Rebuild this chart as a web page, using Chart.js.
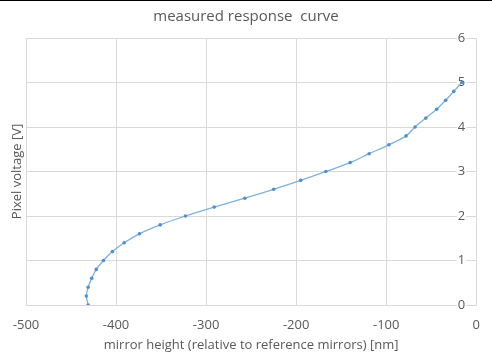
<!DOCTYPE html>
<html lang="en">
<head>
    <meta charset="UTF-8">
    <title>measured response curve</title>
    <script src="https://cdn.jsdelivr.net/npm/chart.js"></script>
    <style>
        html, body { margin: 0; padding: 0; background: #fff; }
        #wrap { position: relative; width: 492px; height: 353px; }
        #topline { position: absolute; left: 0; top: 0; width: 492px; height: 1px; background: #000; }
    </style>
</head>
<body>
    <div id="wrap">
        <canvas id="grafica" width="492" height="353"></canvas>
        <div id="topline"></div>
    </div>
    <script>
        // pixel voltage steps [V] and mirror height [nm]
        const voltage = [0, 0.2, 0.4, 0.6, 0.8, 1.0, 1.2, 1.4, 1.6, 1.8, 2.0, 2.2, 2.4,
                         2.6, 2.8, 3.0, 3.2, 3.4, 3.6, 3.8, 4.0, 4.2, 4.4, 4.6, 4.8, 5.0];
        const height = [-431, -433, -431, -427, -422, -414, -404, -391, -374, -351, -323, -291, -257,
                        -225, -195, -167, -140, -119, -97, -78, -68, -56, -44, -34, -25, -16];
        const xTicks = [-500, -400, -300, -200, -100, 0];
        const yTicks = [0, 1, 2, 3, 4, 5, 6];

        const textColor = '#595959';
        const gridColor = '#d9d9d9';
        const fam = "'Open Sans', sans-serif";

        const puntos = voltage.map(function(v, i) { return { x: height[i], y: v }; });

        const ctx = document.getElementById('grafica').getContext('2d');
        new Chart(ctx, {
            type: 'scatter',
            data: {
                datasets: [{
                    data: puntos,
                    showLine: true,
                    tension: 0.35,
                    borderColor: '#7fb0de',
                    borderWidth: 1.3,
                    pointRadius: 1.8,
                    pointBackgroundColor: '#4f8fd0',
                    pointBorderWidth: 0,
                    yAxisID: 'y'
                }]
            },
            options: {
                responsive: false,
                animation: false,
                layout: { padding: 0 },
                plugins: {
                    legend: { display: false },
                    tooltip: { enabled: false },
                    title: {
                        display: true,
                        text: 'measured response  curve',
                        color: textColor,
                        font: { family: fam, size: 15, weight: 'normal' },
                        padding: { top: 8, bottom: 12 }
                    }
                },
                scales: {
                    x: {
                        type: 'linear',
                        position: 'bottom',
                        min: -500,
                        max: 0,
                        afterBuildTicks: function(s) { s.ticks = xTicks.map(function(v) { return { value: v }; }); },
                        afterFit: function(s) { s.height = 48; },
                        grid: { color: gridColor, drawTicks: false },
                        border: { color: gridColor },
                        ticks: { color: textColor, font: { family: fam, size: 13 }, padding: 12, maxRotation: 0 },
                        title: {
                            display: true,
                            text: 'mirror height (relative to reference mirrors) [nm]',
                            color: textColor,
                            font: { family: fam, size: 13 },
                            padding: { top: 0, bottom: 0 }
                        }
                    },
                    y: {
                        type: 'linear',
                        position: 'right',
                        min: 0,
                        max: 6,
                        afterBuildTicks: function(s) { s.ticks = yTicks.map(function(v) { return { value: v }; }); },
                        afterFit: function(s) { s.width = 15; },
                        grid: { color: gridColor, drawTicks: false },
                        border: { color: gridColor },
                        ticks: {
                            color: textColor,
                            font: { family: fam, size: 13 },
                            mirror: true,
                            padding: -11,
                            showLabelBackdrop: true,
                            backdropColor: '#ffffff',
                            backdropPadding: 1
                        }
                    },
                    yTitulo: {
                        type: 'linear',
                        position: 'left',
                        min: 0,
                        max: 6,
                        afterFit: function(s) { s.width = 26; },
                        grid: { display: false },
                        border: { display: false },
                        ticks: { display: false },
                        title: {
                            display: true,
                            text: 'Pixel voltage [V]',
                            color: textColor,
                            font: { family: fam, size: 13 },
                            padding: { top: 9, bottom: 0 }
                        }
                    }
                }
            }
        });
    </script>
</body>
</html>
